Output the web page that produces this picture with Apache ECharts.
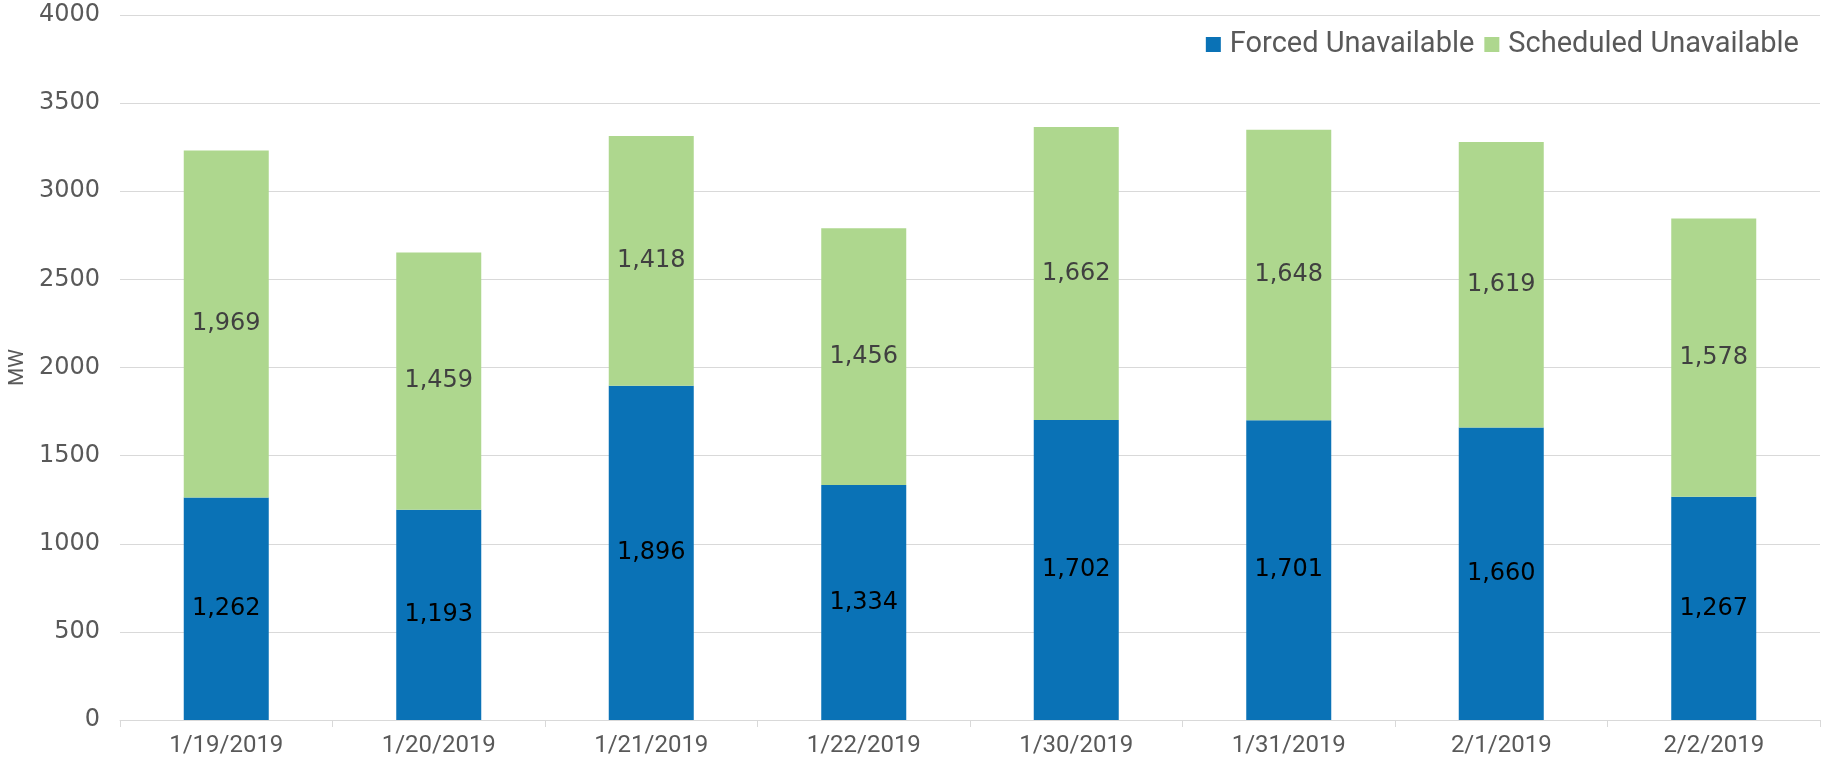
<!DOCTYPE html>
<html>
<head>
<meta charset="utf-8">
<script src="https://cdn.jsdelivr.net/npm/echarts@6/dist/echarts.min.js"></script>
<style>
html,body{margin:0;padding:0;background:#fff;}
#chart{width:1844px;height:767px;}
</style>
</head>
<body>
<div id="chart"></div>
<script>
const dates = ['1/19/2019', '1/20/2019', '1/21/2019', '1/22/2019', '1/30/2019', '1/31/2019', '2/1/2019', '2/2/2019']
const forced = [1262, 1193, 1896, 1334, 1702, 1701, 1660, 1267]
const scheduled = [1969, 1459, 1418, 1456, 1662, 1648, 1619, 1578]

const fmt = function (p) {
    return p.value.toLocaleString('en-US')
}

const myChart = echarts.init(document.getElementById('chart'))
myChart.setOption({
    animation: false,
    textStyle: { fontFamily: 'Roboto, sans-serif' },
    legend: {
        right: 40,
        top: 25,
        itemWidth: 15,
        itemHeight: 15,
        itemGap: 10,
        icon: 'rect',
        textStyle: { fontSize: 29, color: '#595959', padding: [0, 0, 0, 4] },
        data: ['Forced Unavailable', 'Scheduled Unavailable']
    },
    grid: { left: 120, right: 24, top: 15, bottom: 47, outerBoundsMode: 'none' },
    xAxis: {
        type: 'category',
        data: dates,
        axisLine: { lineStyle: { color: '#d9d9d9' } },
        axisTick: { show: true, length: 7, lineStyle: { color: '#d9d9d9' } },
        axisLabel: { fontSize: 24, color: '#595959', margin: 14 }
    },
    yAxis: {
        type: 'value',
        min: 0,
        max: 4000,
        interval: 500,
        name: 'MW',
        nameLocation: 'middle',
        nameGap: 84,
        nameRotate: 90,
        nameTextStyle: { fontSize: 21, color: '#595959' },
        axisLine: { show: false },
        axisTick: { show: false },
        splitLine: { lineStyle: { color: '#d9d9d9' } },
        axisLabel: {
            fontSize: 24, color: '#595959', margin: 20, fontFamily: 'DejaVu Sans, sans-serif',
            formatter: function (v) { return String(v) }
        }
    },
    series: [
        {
            name: 'Forced Unavailable',
            type: 'bar',
            stack: 'total',
            barWidth: '40%',
            itemStyle: { color: '#0a72b6' },
            label: { show: true, position: 'inside', formatter: fmt, fontSize: 24, color: '#000', fontFamily: 'DejaVu Sans, sans-serif' },
            data: forced
        },
        {
            name: 'Scheduled Unavailable',
            type: 'bar',
            stack: 'total',
            itemStyle: { color: '#aed78e' },
            label: { show: true, position: 'inside', formatter: fmt, fontSize: 24, color: '#404040', fontFamily: 'DejaVu Sans, sans-serif' },
            data: scheduled
        }
    ]
})
</script>
</body>
</html>
